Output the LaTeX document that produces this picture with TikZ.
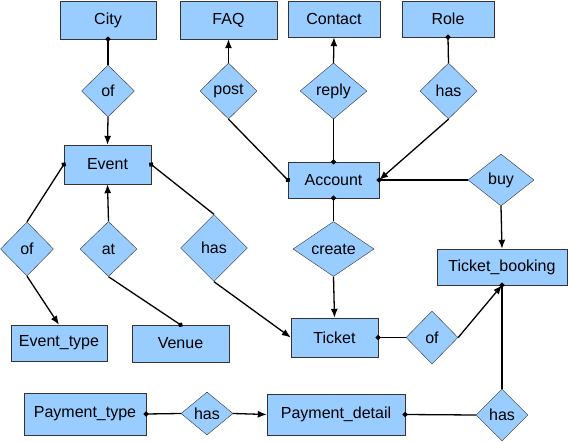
\documentclass[tikz,border=0pt]{standalone}
\usepackage{xcolor}
\usepackage{fontspec}
\setmainfont{Liberation Sans}
\usepackage{tikz}
\usetikzlibrary{shapes, shapes.geometric, positioning, arrows.meta}

\definecolor{erblue}{HTML}{99CCFF}
\definecolor{erline}{HTML}{333333}

\begin{document}
\begin{tikzpicture}[x=1pt, y=-1pt,
	ent/.style={draw=erline, fill=erblue, inner sep=0pt, font=\fontsize{16}{19}\selectfont},
	rel/.style={diamond, draw=erline, fill=erblue, inner sep=0pt, font=\fontsize{16}{19}\selectfont},
	link/.style={line width=1.3pt},
	arr/.style={link, -{Latex[length=9pt, width=7pt]}},
	dot/.style={link, {Circle[length=5pt]}-, shorten <=-2.5pt}]
	
	\useasboundingbox (0,0) rectangle (568,442);
	
	%//entities
	\foreach \n/\x/\y/\w/\h/\t in {city/108/20/96/38/City, faq/228.5/20/97/38/FAQ,
		contact/334/19/92/36/Contact, role/448/19/92/36/Role,
		event/107.5/164.5/87/39/Event, account/333.5/180/91/36/Account,
		booking/502/267/130/36/Ticket\_booking, eventtype/59/343/96/36/Event\_type,
		venue/180.5/343.5/97/37/Venue, ticket/334.5/337.5/87/39/Ticket,
		paytype/85/414/122/42/Payment\_type, paydetail/336/414.5/138/41/Payment\_detail}
	\node [ent, minimum width=\w pt, minimum height=\h pt] (\n) at (\x,\y) {\t};
	
	%//relations
	\foreach \n/\x/\y/\w/\h/\t in {rcity/108/91/53/52/of, rpost/228.5/91/57/56/post,
		rreply/333.5/91/67/56/reply, rrole/448.5/91/57/56/has,
		rbuy/501/180/66/52/buy, rtype/27/249/53/54/of,
		rat/108.5/249/57/55/at, rticket/214/248/67/67/has,
		rcreate/333.5/249/81/53/create, rof/432/337.5/52/53/of,
		rpaytype/207/413.5/52/43/has, rpaydetail/502/415/52/52/has}
	\node [rel, minimum width=\w pt, minimum height=\h pt] (\n) at (\x,\y) {\t};
	
	%//plain lines starting with a dot
	\foreach \a/\b in {city.south/rcity.north, account.west/rpost.south,
		account.north/rreply.south, role.south/rrole.north,
		account.east/rbuy.west, account.south/rcreate.north,
		event.west/rtype.north, venue.north/rat.south,
		event.east/rticket.north, ticket.east/rof.west,
		booking.south/rpaydetail.north, paydetail.east/rpaydetail.west,
		paytype.east/rpaytype.west}
	\draw [dot] (\a) -- (\b);
	
	%//arrows
	\foreach \a/\b in {rcity.south/event.north, rpost.north/faq.south,
		rreply.north/contact.south, rrole.south/account.east,
		rbuy.south/booking.north, rcreate.south/ticket.north,
		rtype.south/eventtype.north, rat.north/event.south,
		rticket.south/ticket.west, rof.east/booking.south,
		rpaytype.east/paydetail.west}
	\draw [arr] (\a) -- (\b);
	
\end{tikzpicture}
\end{document}
